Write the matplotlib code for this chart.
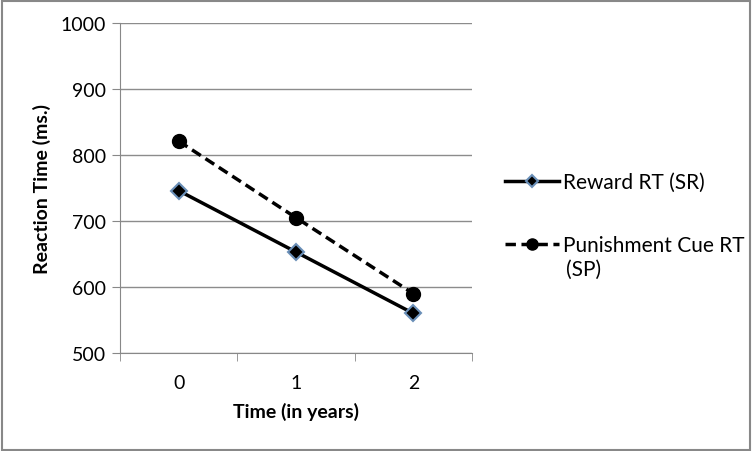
import matplotlib.pyplot as plt
from matplotlib.patches import Rectangle

plt.rcParams['font.family'] = ['Lato', 'DejaVu Sans']

# data
years = [0, 1, 2]
reward_rt = [746, 653, 560]
punish_rt = [821, 705, 590]
yticks = [500, 600, 700, 800, 900, 1000]

fig = plt.figure(figsize=(7.52, 4.52), dpi=100)
ax = fig.add_axes([0.1596, 0.2168, 0.4681, 0.7301])

ax.plot(years, reward_rt, color='black', linewidth=2.5, marker='D',
        markersize=8, markerfacecolor='black', markeredgecolor='#6a8fb8',
        markeredgewidth=1.5, label='Reward RT (SR)')
ax.plot(years, punish_rt, color='black', linewidth=2.5, linestyle=(0, (3, 1.6)),
        marker='o', markersize=10, markerfacecolor='black',
        markeredgecolor='black', label='Punishment Cue RT')

ax.set_xlim(-0.5, 2.5)
ax.set_ylim(500, 1000)
ax.set_yticks(yticks)
ax.set_xticks(years)
ax.set_xticks([-0.5, 0.5, 1.5, 2.5], minor=True)
ax.tick_params(axis='x', which='major', length=0, pad=15, labelsize=14)
ax.tick_params(axis='x', which='minor', length=6, color='#888888', direction='out')
ax.tick_params(axis='y', length=6, color='#888888', direction='out', labelsize=14, pad=4)
ax.grid(axis='y', color='#8c8c8c', linewidth=1)
ax.set_axisbelow(True)
for s in ['top', 'right']:
    ax.spines[s].set_visible(False)
for s in ['left', 'bottom']:
    ax.spines[s].set_color('#888888')

ax.set_xlabel('Time (in years)', fontsize=14, fontweight='bold')
ax.set_ylabel('Reaction Time (ms.)', fontsize=14, fontweight='bold', va='center')
ax.xaxis.set_label_coords(0.5, -0.148)
ax.yaxis.set_label_coords(-0.2216, 0.5)

leg = fig.legend(loc='upper left', bbox_to_anchor=(0.6715, 0.617), frameon=False,
                 fontsize=15, handlelength=2.6, labelspacing=2.05, handletextpad=0.2,
                 borderpad=0, borderaxespad=0, markerscale=0.8)
# second line of the wrapped legend label
fig.text(566 / 752, 1 - 270 / 452, '(SP)', fontsize=15, va='center', ha='left')

fig.patches.append(Rectangle((0.002, 0.003), 0.995, 0.993, transform=fig.transFigure,
                             fill=False, edgecolor='#888888', linewidth=1.5))

fig.savefig('out.png', dpi=100)
